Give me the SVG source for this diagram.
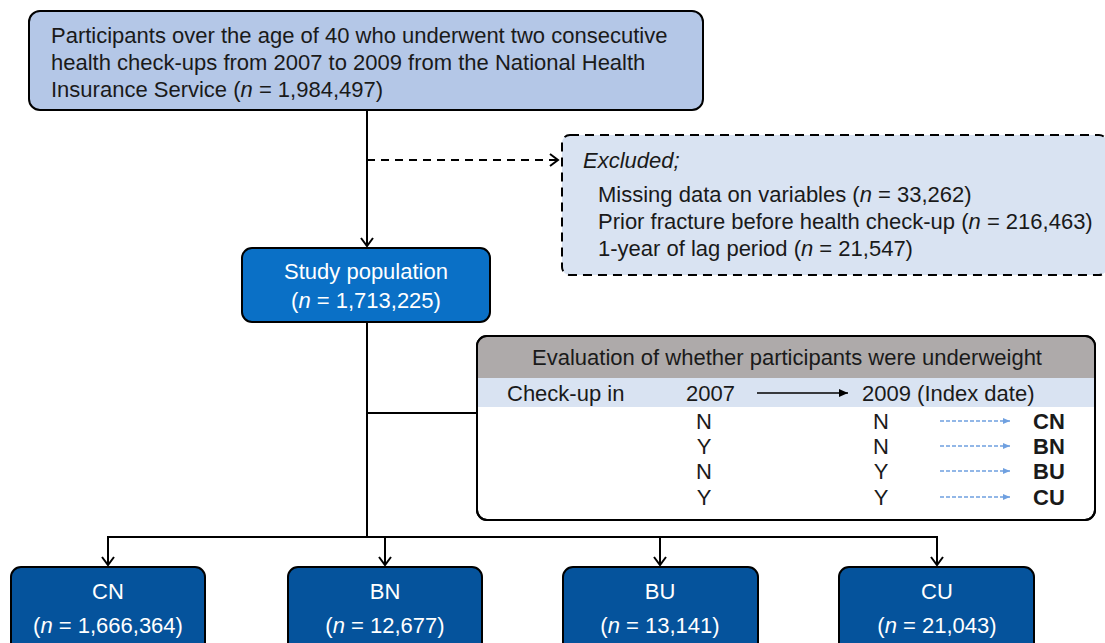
<svg xmlns="http://www.w3.org/2000/svg" width="1105" height="643" viewBox="0 0 1105 643">
<style>
text{font-family:"Liberation Sans",Arial,sans-serif;font-size:22px;fill:#1a1a1a}
.w{fill:#ffffff}
.c{text-anchor:middle}
.b{font-weight:bold}
.conn{stroke:#000;stroke-width:2;fill:none}
.dash{stroke-dasharray:8,6}
.dark{fill:#05539c;stroke:#000;stroke-width:2}
</style>
<defs>
<marker id="ah" markerWidth="14" markerHeight="14" refX="10" refY="7" orient="auto" markerUnits="userSpaceOnUse">
<path d="M2,1 L10,7 L2,13" fill="none" stroke="#000" stroke-width="2"/>
</marker>
<marker id="ahf" markerWidth="10" markerHeight="10" refX="9" refY="5" orient="auto" markerUnits="userSpaceOnUse">
<path d="M0,1 L9,5 L0,9 Z" fill="#000"/>
</marker>
<marker id="ahb" markerWidth="8" markerHeight="8" refX="7" refY="4" orient="auto" markerUnits="userSpaceOnUse">
<path d="M0,1 L7,4 L0,7 Z" fill="#6fa0e0"/>
</marker>
</defs>
<g id="connectors">
<line class="conn" x1="367" y1="111" x2="367" y2="246" marker-end="url(#ah)"/>
<line class="conn dash" x1="367" y1="160" x2="558" y2="160" marker-end="url(#ah)"/>
<polyline class="conn" points="367,322 367,537"/>
<line class="conn" x1="367" y1="413" x2="477" y2="413"/>
<line class="conn" x1="107" y1="537" x2="938" y2="537"/>
<line class="conn" x1="108" y1="536" x2="108" y2="565" marker-end="url(#ah)"/>
<line class="conn" x1="385" y1="536" x2="385" y2="565" marker-end="url(#ah)"/>
<line class="conn" x1="660" y1="536" x2="660" y2="565" marker-end="url(#ah)"/>
<line class="conn" x1="937" y1="536" x2="937" y2="565" marker-end="url(#ah)"/>
</g>
<g id="top">
<rect x="29" y="11" width="674" height="99" rx="11" fill="#b4c7e7" stroke="#000" stroke-width="2"/>
<text x="51" y="43">Participants over the age of 40 who underwent two consecutive</text>
<text x="51" y="70">health check-ups from 2007 to 2009 from the National Health</text>
<text x="51" y="97">Insurance Service (<tspan font-style="italic">n</tspan> = 1,984,497)</text>
</g>
<g id="excluded">
<rect x="562" y="135" width="545" height="140" rx="8" fill="#d9e3f2" stroke="#000" stroke-width="2" stroke-dasharray="9,6"/>
<text x="583" y="168" font-style="italic">Excluded;</text>
<text x="598" y="202">Missing data on variables (<tspan font-style="italic">n</tspan> = 33,262)</text>
<text x="598" y="229">Prior fracture before health check-up (<tspan font-style="italic">n</tspan> = 216,463)</text>
<text x="598" y="256">1-year of lag period (<tspan font-style="italic">n</tspan> = 21,547)</text>
</g>
<g id="study">
<rect x="242" y="248" width="248" height="74" rx="10" fill="#0a70c6" stroke="#000" stroke-width="2"/>
<text class="w c" x="366" y="279">Study population</text>
<text class="w c" x="366" y="308">(<tspan font-style="italic" class="w">n</tspan> = 1,713,225)</text>
</g>
<g id="evaluation">
<rect x="477" y="336" width="618" height="184" rx="10" fill="#fff" stroke="#000" stroke-width="2"/>
<path d="M478,378 L478,346 Q478,337 487,337 L1085,337 Q1094,337 1094,346 L1094,378 Z" fill="#aeaaaa"/>
<rect x="478" y="378" width="616" height="29" fill="#d9e3f2"/>
<rect x="477" y="336" width="618" height="184" rx="10" fill="none" stroke="#000" stroke-width="2"/>
<text class="c" x="787" y="365">Evaluation of whether participants were underweight</text>
<text x="507" y="401">Check-up in</text>
<text x="686" y="401">2007</text>
<line x1="757" y1="393" x2="848" y2="393" stroke="#000" stroke-width="1.5" marker-end="url(#ahf)"/>
<text x="862" y="401">2009 (Index date)</text>
<text class="c" x="704" y="429">N</text><text class="c" x="881" y="429">N</text>
<text class="c" x="704" y="454">Y</text><text class="c" x="881" y="454">N</text>
<text class="c" x="704" y="479">N</text><text class="c" x="881" y="479">Y</text>
<text class="c" x="704" y="505">Y</text><text class="c" x="881" y="505">Y</text>
<g stroke="#6fa0e0" stroke-width="1.5" stroke-dasharray="4,2">
<line x1="940" y1="421" x2="1010" y2="421" marker-end="url(#ahb)"/>
<line x1="940" y1="446" x2="1010" y2="446" marker-end="url(#ahb)"/>
<line x1="940" y1="471" x2="1010" y2="471" marker-end="url(#ahb)"/>
<line x1="940" y1="497" x2="1010" y2="497" marker-end="url(#ahb)"/>
</g>
<text class="b" x="1033" y="429">CN</text>
<text class="b" x="1033" y="454">BN</text>
<text class="b" x="1033" y="479">BU</text>
<text class="b" x="1033" y="505">CU</text>
</g>
<g id="cn">
<rect class="dark" x="11" y="567" width="194" height="90" rx="10"/>
<text class="w c" x="108" y="599">CN</text>
<text class="w c" x="108" y="633">(<tspan font-style="italic" class="w">n</tspan> = 1,666,364)</text>
</g>
<g id="bn">
<rect class="dark" x="288" y="567" width="194" height="90" rx="10"/>
<text class="w c" x="385" y="599">BN</text>
<text class="w c" x="385" y="633">(<tspan font-style="italic" class="w">n</tspan> = 12,677)</text>
</g>
<g id="bu">
<rect class="dark" x="563" y="567" width="195" height="90" rx="10"/>
<text class="w c" x="660" y="599">BU</text>
<text class="w c" x="660" y="633">(<tspan font-style="italic" class="w">n</tspan> = 13,141)</text>
</g>
<g id="cu">
<rect class="dark" x="839" y="567" width="195" height="90" rx="10"/>
<text class="w c" x="937" y="599">CU</text>
<text class="w c" x="937" y="633">(<tspan font-style="italic" class="w">n</tspan> = 21,043)</text>
</g>
</svg>
